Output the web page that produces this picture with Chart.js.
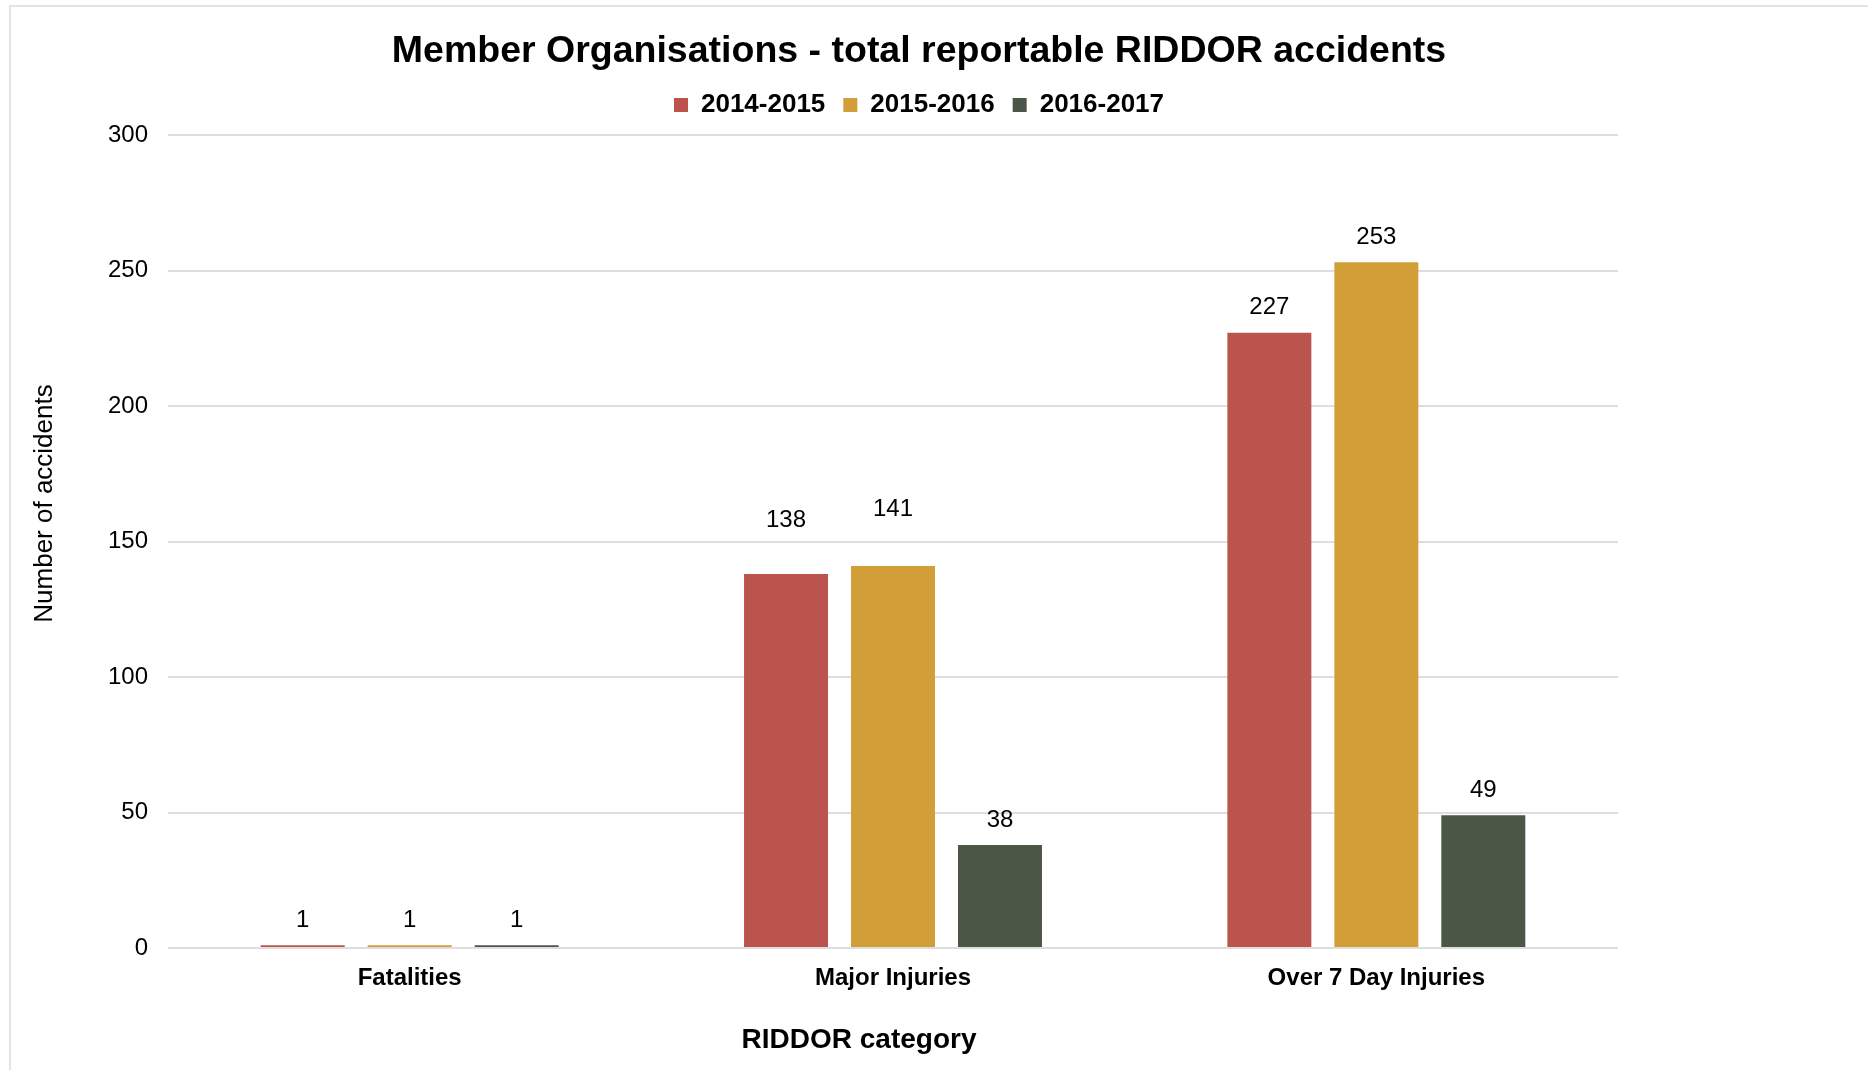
<!DOCTYPE html>
<html>
<head>
<meta charset="utf-8">
<title>Member Organisations - total reportable RIDDOR accidents</title>
<script src="https://cdn.jsdelivr.net/npm/chart.js@4"></script>
<style>
    html, body { margin: 0; padding: 0; background: #fff; }
    .chart-box { position: relative; width: 1868px; height: 1070px; }
    .frame { position: absolute; left: 9px; top: 5px; right: 0; bottom: 0;
             border-top: 2px solid #e3e3e3; border-left: 2px solid #e3e3e3; }
    canvas { position: absolute; left: 0; top: 0; }
</style>
</head>
<body>
<div class="chart-box">
    <div class="frame"></div>
    <canvas id="chart-bar" width="1868" height="1070"></canvas>
</div>
<script>
// chart data
let categories = ['Fatalities', 'Major Injuries', 'Over 7 Day Injuries'];
let years = ['2014-2015', '2015-2016', '2016-2017'];
let values2014 = [1, 138, 227];
let values2015 = [1, 141, 253];
let values2016 = [1, 38, 49];
let yTicks = [0, 50, 100, 150, 200, 250, 300];
let yTitle = 'Number of accidents';
let xTitle = 'RIDDOR category';

let colors = ['#bc544e', '#d29e38', '#4b5647'];
let fontName = '"Liberation Sans", Arial, sans-serif';

// how far above the bar top each value label sits (px), per series then category
let labelLift = [[25, 54, 25], [25, 57, 25], [25, 25, 25]];

// draw values above the bars, and both axis titles (they sit off centre in the original)
let valueLabels = {
    id: 'valueLabels',
    afterDatasetsDraw (chart) {
        let ctx = chart.ctx;
        let area = chart.chartArea;
        ctx.save();
        ctx.font = '24px ' + fontName;
        ctx.fillStyle = '#000';
        ctx.textAlign = 'center';
        ctx.textBaseline = 'middle';
        chart.data.datasets.forEach((ds, i) => {
            chart.getDatasetMeta(i).data.forEach((bar, j) => {
                ctx.fillText(ds.data[j], bar.x, bar.y - labelLift[i][j]);
            });
        });

        ctx.font = 'bold 28px ' + fontName;
        ctx.fillText(xTitle, (area.left + area.right) / 2 - 34, area.bottom + 92);

        ctx.font = '26px ' + fontName;
        ctx.translate(45, (area.top + area.bottom) / 2 - 38);
        ctx.rotate(-Math.PI / 2);
        ctx.fillText(yTitle, 0, 0);
        ctx.restore();
    }
};

// empty axis, only used to hold space
let spacer = (size, vertical) => ({
    display: true,
    grid: { display: false },
    border: { display: false },
    ticks: { display: false },
    afterFit (axis) {
        if (vertical) axis.width = size; else axis.height = size;
    }
});

let chartBar = document.getElementById('chart-bar').getContext('2d');

let barChart = new Chart(chartBar, {
    type: 'bar',
    data: {
        labels: categories,
        datasets: [
            { label: years[0], data: values2014, backgroundColor: colors[0] },
            { label: years[1], data: values2015, backgroundColor: colors[1] },
            { label: years[2], data: values2016, backgroundColor: colors[2] }
        ]
    },
    options: {
        responsive: false,
        animation: false,
        datasets: {
            bar: { categoryPercentage: 0.664, barPercentage: 0.785 }
        },
        layout: { padding: { left: 20, right: 50, top: 23, bottom: 12 } },
        plugins: {
            title: {
                display: true,
                text: 'Member Organisations - total reportable RIDDOR accidents',
                color: '#000',
                font: { family: fontName, size: 37.5, weight: 'bold' },
                padding: { top: 6, bottom: 0 }
            },
            legend: {
                position: 'top',
                labels: {
                    color: '#000',
                    font: { family: fontName, size: 26, weight: 'bold' },
                    boxWidth: 14,
                    boxHeight: 14,
                    padding: 18
                }
            },
            tooltip: { enabled: false }
        },
        scales: {
            x: {
                afterFit (axis) {
                    // tick labels plus the hand drawn title below
                    axis.height = 110;
                },
                grid: { display: false },
                border: { display: false },
                ticks: {
                    color: '#000',
                    padding: 8,
                    font: { family: fontName, size: 24, weight: 'bold' }
                }
            },
            xTop: Object.assign({ type: 'category', position: 'top' }, spacer(7, false)),
            y: {
                min: 0,
                max: 300,
                afterBuildTicks (axis) {
                    axis.ticks = yTicks.map(v => ({ value: v }));
                },
                afterFit (axis) {
                    // room for the hand drawn title on the left
                    axis.width = 148;
                },
                grid: { color: '#dedede', lineWidth: 2, drawTicks: false },
                border: { display: false },
                ticks: {
                    color: '#000',
                    padding: 20,
                    font: { family: fontName, size: 24 }
                }
            },
            yRight: Object.assign({ type: 'linear', position: 'right' }, spacer(200, true))
        }
    },
    plugins: [valueLabels]
});
</script>
</body>
</html>
